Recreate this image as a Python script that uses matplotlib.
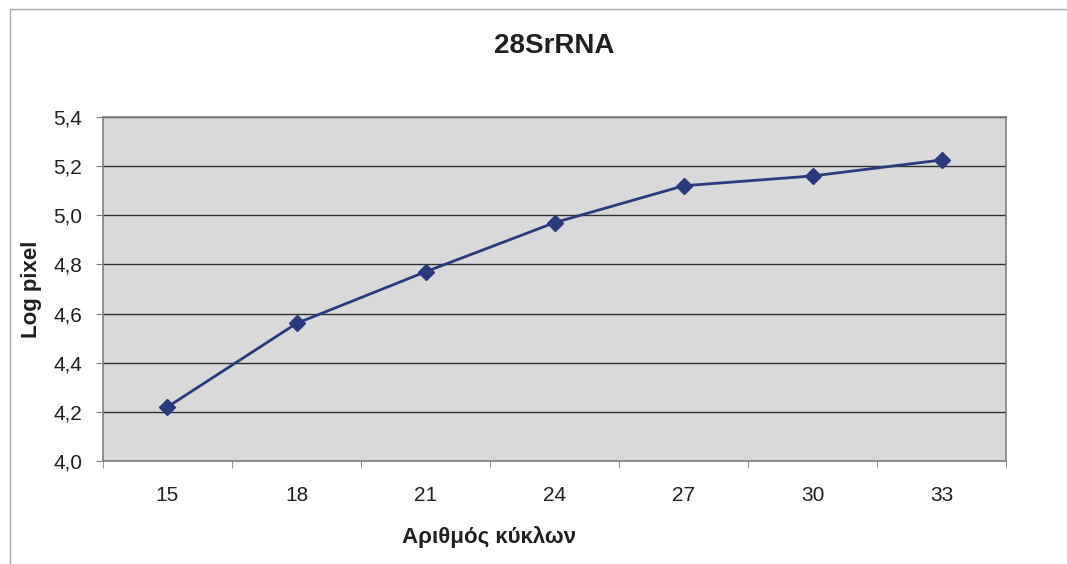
import matplotlib.pyplot as plt
import numpy as np
from matplotlib.ticker import FuncFormatter, FixedLocator
from matplotlib.lines import Line2D

plt.rcParams['font.family'] = ['Liberation Sans', 'DejaVu Sans']

cycles = ["15", "18", "21", "24", "27", "30", "33"]
log_pixel = [4.22, 4.56, 4.77, 4.97, 5.12, 5.16, 5.225]
y_ticks = [4.0, 4.2, 4.4, 4.6, 4.8, 5.0, 5.2, 5.4]

fig = plt.figure(figsize=(10.67, 5.64), dpi=100)
# scanned page edge: top and left border only
fig.lines.append(Line2D([0.009, 1.0], [0.984, 0.984], transform=fig.transFigure,
                        color="#a8a8a8", linewidth=1.0))
fig.lines.append(Line2D([0.009, 0.009], [0.0, 0.984], transform=fig.transFigure,
                        color="#a8a8a8", linewidth=1.0))

ax = fig.add_axes([0.0965, 0.1826, 0.8465, 0.61])
ax.set_facecolor("#d9d9d9")

x = np.arange(len(cycles))
ax.plot(x, log_pixel, color="#2a3a7c", linewidth=2, marker="D", markersize=8,
        markerfacecolor="#2a3a7c", markeredgecolor="#2a3a7c", zorder=3)

ax.set_xlim(-0.5, len(cycles) - 0.5)
ax.set_ylim(4.0, 5.4)
ax.set_yticks(y_ticks)
ax.yaxis.set_major_formatter(FuncFormatter(lambda v, p: f"{v:.1f}".replace(".", ",")))
ax.set_xticks(x)
ax.set_xticklabels(cycles)
ax.xaxis.set_minor_locator(FixedLocator(np.arange(-0.5, len(cycles), 1.0)))
ax.tick_params(axis="x", which="major", length=0, labelsize=15, pad=18, labelcolor="#202020")
ax.tick_params(axis="x", which="minor", length=5, color="#808080", direction="out")
ax.tick_params(axis="y", length=5, color="#808080", labelsize=15, pad=10, labelcolor="#202020")

ax.grid(axis="y", color="#303030", linewidth=1.0)
ax.set_axisbelow(True)
for s in ax.spines.values():
    s.set_color("#808080")
    s.set_linewidth(1.2)

ax.set_title("28SrRNA", fontsize=20, fontweight="bold", pad=46, color="#202020")
ax.set_xlabel("Αριθμός κύκλων", fontsize=16, fontweight="bold", color="#202020")
ax.xaxis.set_label_coords(0.427, -0.19)
ax.set_ylabel("Log pixel", fontsize=16, fontweight="bold", color="#202020")
ax.yaxis.set_label_coords(-0.068, 0.5)

plt.savefig("out.png", dpi=100)
